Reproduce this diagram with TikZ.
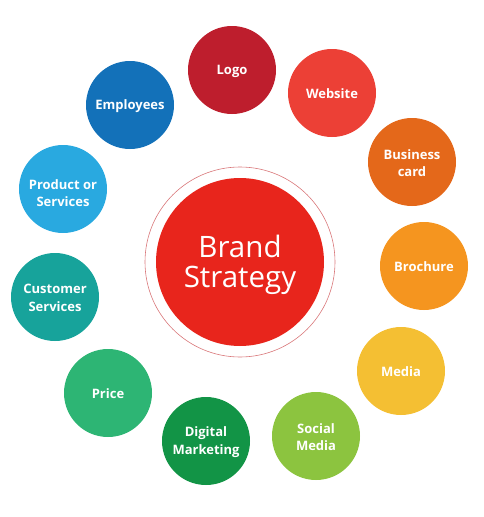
\documentclass[tikz,border=0pt]{standalone}
\usepackage{fontspec}
\setmainfont{Open Sans}
\usepackage{tikz}
\usetikzlibrary{positioning}

\definecolor{cLogo}{HTML}{BE1E2D}
\definecolor{cWeb}{HTML}{EC4036}
\definecolor{cCard}{HTML}{E4681A}
\definecolor{cBroch}{HTML}{F5951F}
\definecolor{cMedia}{HTML}{F4BF33}
\definecolor{cSocial}{HTML}{8CC43F}
\definecolor{cDigital}{HTML}{129446}
\definecolor{cPrice}{HTML}{2DB574}
\definecolor{cCust}{HTML}{17A39B}
\definecolor{cProd}{HTML}{29A9E0}
\definecolor{cEmpl}{HTML}{1371B9}
\definecolor{cCore}{HTML}{E8251C}
\definecolor{cRing}{HTML}{D9777A}

\begin{document}
\begin{tikzpicture}[x=1pt, y=-1pt,
    item/.style={circle, minimum size=88pt, inner sep=0pt},
    lbl/.style={align=center, text=white, yshift=-1pt, font=\fontsize{13}{17.5}\selectfont\bfseries},
    core/.style={circle, fill=cCore, minimum size=168pt, inner sep=0pt},
    corelbl/.style={align=center, text=white, yshift=-2.5pt, font=\fontsize{29.5}{30}\selectfont},
    ring/.style={circle, draw=cRing, line width=0.6pt, minimum size=190pt, inner sep=0pt}
]
\useasboundingbox (0,0) rectangle (483,517);

\node[ring] (ring) at (240,262) {};
\node[core, label={[corelbl]center:Brand\\Strategy}] (core) at (240,262) {};

\node[item, fill=cLogo, label={[lbl]center:Logo}] (logo) at (232,70) {};
\node[item, fill=cWeb, label={[lbl]center:Website}] (web) at (332,93) {};
\node[item, fill=cCard, label={[lbl]center:Business\\card}] (card) at (412,162) {};
\node[item, fill=cBroch, label={[lbl]center:Brochure}] (broch) at (424,266) {};
\node[item, fill=cMedia, label={[lbl]center:Media}] (media) at (401,371) {};
\node[item, fill=cSocial, label={[lbl]center:Social\\Media}] (social) at (316,436) {};
\node[item, fill=cDigital, label={[lbl]center:Digital\\Marketing}] (digital) at (206,441) {};
\node[item, fill=cPrice, label={[lbl]center:Price}] (price) at (108,393) {};
\node[item, fill=cCust, label={[lbl]center:Customer\\Services}] (cust) at (55,297) {};
\node[item, fill=cProd, label={[lbl, yshift=-3pt]center:Product or\\Services}] (prod) at (63,189) {};
\node[item, fill=cEmpl, label={[lbl]center:Employees}] (empl) at (130,105) {};
\end{tikzpicture}
\end{document}
